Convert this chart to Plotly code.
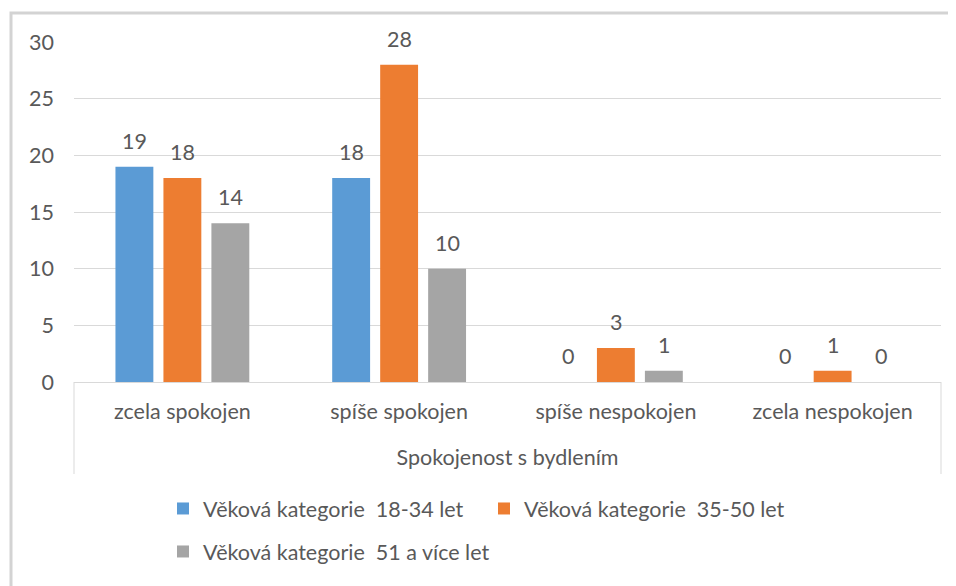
import plotly.graph_objects as go

# data
categories = ["zcela spokojen", "spíše spokojen", "spíše nespokojen", "zcela nespokojen"]
series_names = [
    "Věková kategorie\u00a0 18-34 let",
    "Věková kategorie\u00a0 35-50 let",
    "Věková kategorie\u00a0 51 a více let",
]
vals_18_34 = [19, 18, 0, 0]
vals_35_50 = [18, 28, 3, 1]
vals_51 = [14, 10, 1, 0]
y_ticks = [0, 5, 10, 15, 20, 25, 30]
axis_title = "Spokojenost s bydlením"

colors = ["#5B9BD5", "#ED7D31", "#A5A5A5"]
TXT = "#595959"
FONT = "Lato, 'Open Sans', sans-serif"
FS = 21.5

# the page body has an 8px margin (left/top), so lay out in page pixels minus that
OFF = 8
W, H = 956 - OFF, 586 - OFF
ML, MR, MT, MB = 74 - OFF, 15, 42 - OFF, 204
BARGAP = 0.336
plot_w = W - ML - MR
plot_h = H - MT - MB
slot = plot_w / len(categories) * (1 - BARGAP) / 3

fig = go.Figure()
all_vals = [vals_18_34, vals_35_50, vals_51]
legends = ["legend", "legend", "legend2"]
for i, (name, vals) in enumerate(zip(series_names, all_vals)):
    fig.add_trace(go.Bar(
        x=categories, y=vals, name=name,
        marker=dict(color=colors[i], line=dict(width=0)),
        legend=legends[i],
        hoverinfo="skip",
    ))
    # data labels above bars
    for c, v in zip(categories, vals):
        fig.add_annotation(
            x=c, y=v, xref="x", yref="y", text=str(v),
            showarrow=False, xshift=(i - 1) * slot, yshift=26,
            font=dict(size=FS, color=TXT, family=FONT),
        )

# page pixel -> paper coords
px = lambda p: (p - OFF - ML) / plot_w
py = lambda p: (H - MB - (p - OFF)) / plot_h

# outer chart border
fig.add_shape(type="rect", xref="paper", yref="paper",
              x0=px(11), x1=px(990), y0=py(13), y1=py(640),
              line=dict(color="#D3D3D3", width=3), layer="below")
# category axis box sides
for xs in (0, 1):
    fig.add_shape(type="line", xref="paper", yref="paper",
                  x0=xs, x1=xs, y0=0, y1=py(474),
                  line=dict(color="#D9D9D9", width=1))

fig.update_layout(
    width=W, height=H,
    margin=dict(l=ML, r=MR, t=MT, b=MB),
    paper_bgcolor="white", plot_bgcolor="white",
    barmode="group", bargap=BARGAP, bargroupgap=0.21,
    font=dict(family=FONT, color=TXT, size=FS),
    showlegend=True,
    legend=dict(orientation="h", x=px(163), y=py(488), xanchor="left", yanchor="top",
                entrywidth=276, font=dict(size=FS, color=TXT, family=FONT),
                bgcolor="rgba(0,0,0,0)"),
    legend2=dict(orientation="h", x=px(163), y=py(531), xanchor="left", yanchor="top",
                 font=dict(size=FS, color=TXT, family=FONT),
                 bgcolor="rgba(0,0,0,0)"),
    xaxis=dict(
        showline=True, linecolor="#D9D9D9", linewidth=1,
        ticks="", showgrid=False, ticklabelstandoff=10,
        tickfont=dict(size=FS, color=TXT, family=FONT),
        title=dict(text=axis_title, standoff=27, font=dict(size=FS, color=TXT, family=FONT)),
    ),
    yaxis=dict(
        range=[0, 30], tickvals=y_ticks, showgrid=True, gridcolor="#D9D9D9",
        gridwidth=1, zeroline=False, showline=False, ticks="",
        ticklabelstandoff=19,
        tickfont=dict(size=FS, color=TXT, family=FONT),
    ),
)

fig.write_html("out.html")
